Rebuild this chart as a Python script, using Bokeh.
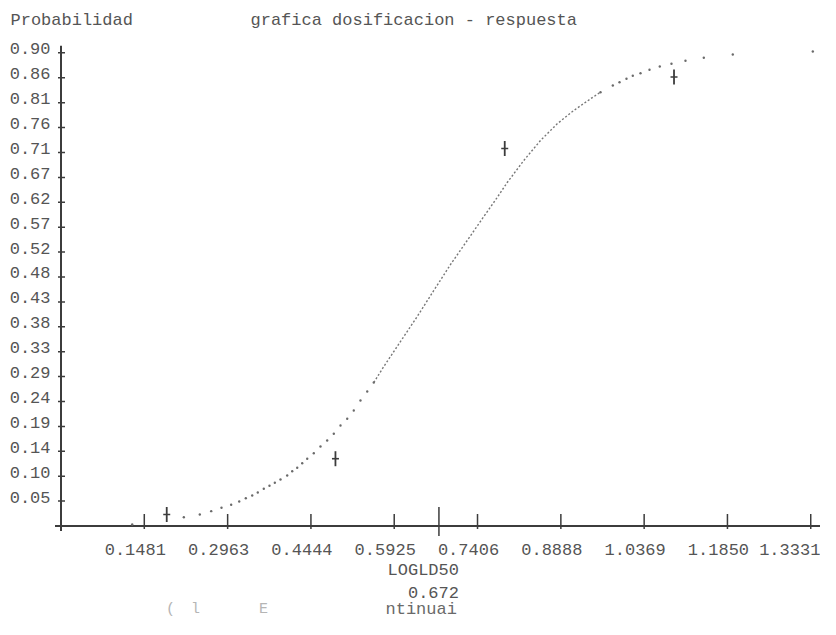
import numpy as np
from bokeh.plotting import figure
from bokeh.models import Range1d, Label, ColumnDataSource
from bokeh.core.properties import value
from bokeh.embed import file_html
from bokeh.resources import INLINE

# ---------------- data ----------------
TITLE = "grafica dosificacion - respuesta"
Y_TITLE = "Probabilidad"
X_TITLE = "LOGLD50"
LD50 = 0.672

X_TICK_LABELS = ["0.1481", "0.2963", "0.4444", "0.5925", "0.7406",
                 "0.8888", "1.0369", "1.1850", "1.3331"]
Y_TICK_LABELS = ["0.05", "0.10", "0.14", "0.19", "0.24", "0.29", "0.33",
                 "0.38", "0.43", "0.48", "0.52", "0.57", "0.62", "0.67",
                 "0.71", "0.76", "0.81", "0.86", "0.90"]
Y_TICK_STEP = 0.9 / 19

# observed points (log dose, proportion)
obs_x = [0.188, 0.488, 0.789, 1.090]
obs_y = [0.022, 0.128, 0.718, 0.854]

# fitted curve
curve_x = [0.1266, 0.2184, 0.2468, 0.2671, 0.2854, 0.3026, 0.3169, 0.3286,
           0.3400, 0.3499, 0.3606, 0.3707, 0.3802, 0.3903, 0.4022, 0.4111,
           0.4200, 0.4289, 0.4378, 0.4495, 0.4614, 0.4733, 0.4851, 0.4970,
           0.5089, 0.5206, 0.5325, 0.5445, 0.5562, 0.5740, 0.6037, 0.6334,
           0.6629, 0.6926, 0.7223, 0.7518, 0.7756, 0.7934, 0.8229, 0.8526,
           0.8823, 0.9118, 0.9415, 0.9593, 0.9812, 0.9931, 1.0055, 1.0167,
           1.0304, 1.0464, 1.0647, 1.0855, 1.1104, 1.1430, 1.1945, 1.3368]
curve_y = [0.0029, 0.0167, 0.0219, 0.0282, 0.0346, 0.0403, 0.0466, 0.0529,
           0.0580, 0.0637, 0.0708, 0.0765, 0.0822, 0.0885, 0.0961, 0.1042,
           0.1107, 0.1195, 0.1278, 0.1385, 0.1512, 0.1626, 0.1754, 0.1912,
           0.2039, 0.2197, 0.2387, 0.2559, 0.2730, 0.3034, 0.3510, 0.3985,
           0.4480, 0.4974, 0.5431, 0.5887, 0.6249, 0.6534, 0.6953, 0.7333,
           0.7651, 0.7904, 0.8126, 0.8252, 0.8379, 0.8442, 0.8507, 0.8564,
           0.8613, 0.8678, 0.8741, 0.8792, 0.8849, 0.8906, 0.8969, 0.9026]

FOOTER_FAINT = ["(", "l", "E"]
FOOTER_TEXT = "ntinuai"

# ---------------- layout / style ----------------
W, H = 820, 619
X0_PX, PX_PER_X = 60.5, 562.4     # canvas px of x=0, px per unit
Y0_PX, PX_PER_Y = 525.5, 525.7    # canvas px of y=0, px per unit
FONT = "Liberation Mono"
FS = "17px"
TXT = "#555555"
INK = "#3c3c3c"

x_range = Range1d((0 - X0_PX) / PX_PER_X, (W - X0_PX) / PX_PER_X)
y_range = Range1d((Y0_PX - H) / PX_PER_Y, Y0_PX / PX_PER_Y)

p = figure(width=W, height=H, x_range=x_range, y_range=y_range,
           x_axis_type=None, y_axis_type=None, min_border=0,
           toolbar_location=None, output_backend="svg")
p.grid.visible = False
p.outline_line_color = None
p.background_fill_color = "white"
p.border_fill_color = "white"


def dx(px):
    return px / PX_PER_X


def dy(px):
    return px / PX_PER_Y


x_ticks = [float(s) for s in X_TICK_LABELS]
y_ticks = [Y_TICK_STEP * (i + 1) for i in range(len(Y_TICK_LABELS))]

# axis lines
p.segment(x0=[-dx(6)], y0=[0], x1=[x_range.end], y1=[0],
          line_color=INK, line_width=2)
p.segment(x0=[0], y0=[-dy(5)], x1=[0], y1=[y_ticks[-1] + dy(7)],
          line_color=INK, line_width=2)

# ticks
p.segment(x0=x_ticks, y0=[-dy(3)] * len(x_ticks), x1=x_ticks,
          y1=[dy(12)] * len(x_ticks), line_color=INK, line_width=1.5)
p.segment(x0=[LD50], y0=[-dy(10)], x1=[LD50], y1=[dy(19)],
          line_color=INK, line_width=1.5)
p.segment(x0=[-dx(3)] * len(y_ticks), y0=y_ticks, x1=[dx(4)] * len(y_ticks),
          y1=y_ticks, line_color=INK, line_width=1.5)

# tick labels (last one nudged left so it stays inside the canvas)
x_label_shift = [-9] * (len(x_ticks) - 1) + [-21]
xsrc = ColumnDataSource(dict(x=x_ticks, y=[0] * len(x_ticks),
                             text=X_TICK_LABELS, xo=x_label_shift))
p.text(x="x", y="y", text="text", x_offset="xo", source=xsrc,
       y_offset=23.5, text_align="center", text_baseline="middle",
       text_font=value(FONT), text_font_size=FS, text_color=TXT)
p.text(x=[0] * len(y_ticks), y=y_ticks, text=Y_TICK_LABELS,
       x_offset=-10.5, y_offset=-4, text_align="right", text_baseline="middle",
       text_font=value(FONT), text_font_size=FS, text_color=TXT)

# curve: sparse dots at the ends, dense dotted run in the middle
cx = np.array(curve_x)
cy = np.array(curve_y)
left = cx <= 0.5562
right = cx >= 0.9593
mid = (cx >= 0.5562) & (cx <= 0.9593)
p.scatter(cx[left | right], cy[left | right], marker="circle", size=2.4,
          fill_color="#6a6a6a", line_color=None)
p.line(cx[mid], cy[mid], line_color="#777777", line_width=1.4, line_dash="2 2")

# observed points as dot-matrix crosses
p.scatter(obs_x, obs_y, marker="dash", angle=np.pi / 2, size=15,
          line_color=INK, line_width=1.8)
p.scatter(obs_x, obs_y, marker="dash", size=7, line_color=INK, line_width=1.6)

# texts
p.add_layout(Label(x=10, y=H - 20, x_units="screen", y_units="screen",
                   text=Y_TITLE, text_baseline="middle", text_font=FONT,
                   text_font_size=FS, text_color=TXT))
p.add_layout(Label(x=250, y=H - 20, x_units="screen", y_units="screen",
                   text=TITLE, text_baseline="middle", text_font=FONT,
                   text_font_size=FS, text_color=TXT))
p.add_layout(Label(x=LD50, y=0, x_offset=20, y_offset=-44.5, text=X_TITLE,
                   text_align="right", text_baseline="middle", text_font=FONT,
                   text_font_size=FS, text_color=TXT))
p.add_layout(Label(x=LD50, y=0, x_offset=20, y_offset=-66.5,
                   text=f"{LD50:.3f}", text_align="right",
                   text_baseline="middle", text_font=FONT,
                   text_font_size=FS, text_color=TXT))

footer_x = [170, 195, 263]
for t, fx in zip(FOOTER_FAINT, footer_x):
    p.add_layout(Label(x=fx, y=10, x_units="screen", y_units="screen", text=t,
                       text_align="center", text_baseline="middle",
                       text_font=FONT, text_font_size="15px",
                       text_color="#b5b5b5"))
p.add_layout(Label(x=385, y=10, x_units="screen", y_units="screen",
                   text=FOOTER_TEXT, text_baseline="middle", text_font=FONT,
                   text_font_size=FS, text_color="#6a6a6a"))

open("out.html", "w").write(file_html(p, INLINE))
